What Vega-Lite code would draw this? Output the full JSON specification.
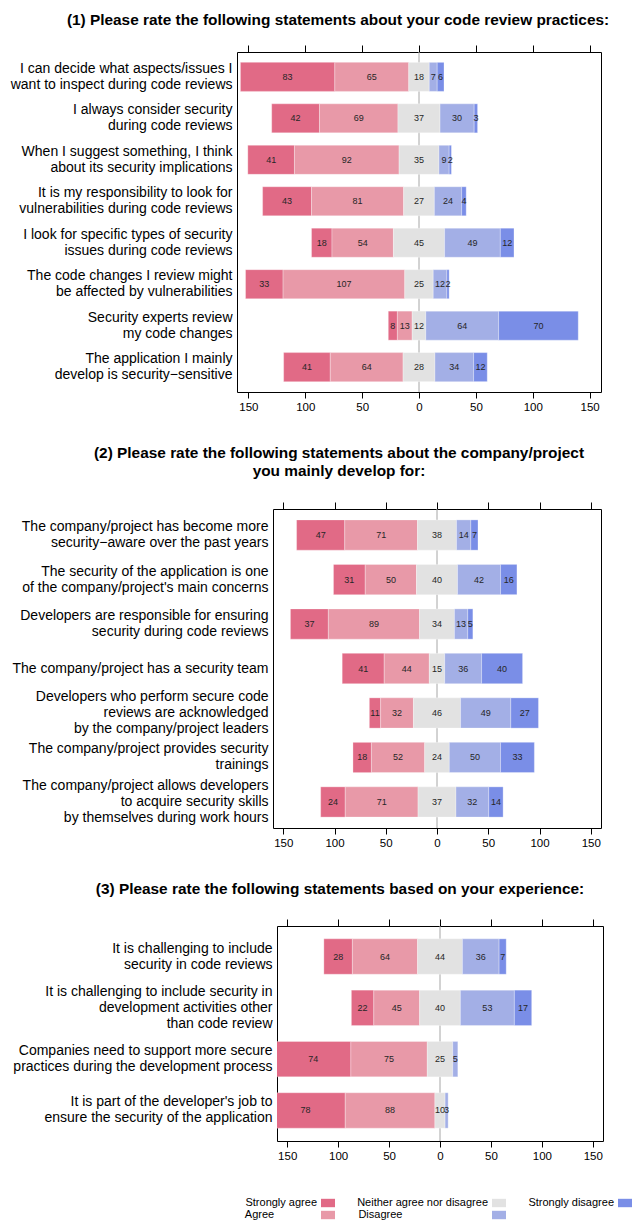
{
  "$schema": "https://vega.github.io/schema/vega-lite/v6.json",
  "background": "white",
  "padding": {"left": 7, "top": 12, "right": 0, "bottom": 0},
  "config": {
    "font": "Liberation Sans",
    "view": {"stroke": "black", "strokeWidth": 1},
    "axis": {"labelFont": "Liberation Sans", "labelColor": "black", "tickColor": "black", "tickWidth": 1, "grid": false},
    "axisY": {"title": null, "ticks": false, "domain": false, "labelExpr": "split(datum.label, '\\n')", "labelFontSize": 14, "labelLineHeight": 16, "labelPadding": 5, "labelLimit": 500, "maxExtent": 500,
      "labelOffset": {"condition": [{"test": "length(split(datum.label, '\\n')) === 3", "value": -16}, {"test": "length(split(datum.label, '\\n')) === 2", "value": -8}], "value": 0}},
    "title": {"font": "Liberation Sans", "fontSize": 15.4, "fontWeight": "bold", "color": "black", "anchor": "middle", "frame": "group", "lineHeight": 18},
    "legend": {"labelFont": "Liberation Sans"}
  },
  "datasets": {
    "statements": [
      {"q": 1, "p": 1, "s": "I can decide what aspects/issues I\nwant to inspect during code reviews"},
      {"q": 2, "p": 1, "s": "I always consider security\nduring code reviews"},
      {"q": 3, "p": 1, "s": "When I suggest something, I think\nabout its security implications"},
      {"q": 4, "p": 1, "s": "It is my responsibility to look for\nvulnerabilities during code reviews"},
      {"q": 5, "p": 1, "s": "I look for specific types of security\nissues during code reviews"},
      {"q": 6, "p": 1, "s": "The code changes I review might\nbe affected by vulnerabilities"},
      {"q": 7, "p": 1, "s": "Security experts review\nmy code changes"},
      {"q": 8, "p": 1, "s": "The application I mainly\ndevelop is security−sensitive"},
      {"q": 9, "p": 2, "s": "The company/project has become more\nsecurity−aware over the past years"},
      {"q": 10, "p": 2, "s": "The security of the application is one\nof the company/project's main concerns"},
      {"q": 11, "p": 2, "s": "Developers are responsible for ensuring\nsecurity during code reviews"},
      {"q": 12, "p": 2, "s": "The company/project has a security team"},
      {"q": 13, "p": 2, "s": "Developers who perform secure code\nreviews are acknowledged\nby the company/project leaders"},
      {"q": 14, "p": 2, "s": "The company/project provides security\ntrainings"},
      {"q": 15, "p": 2, "s": "The company/project allows developers\nto acquire security skills\nby themselves during work hours"},
      {"q": 16, "p": 3, "s": "It is challenging to include\nsecurity in code reviews"},
      {"q": 17, "p": 3, "s": "It is challenging to include security in\ndevelopment activities other\nthan code review"},
      {"q": 18, "p": 3, "s": "Companies need to support more secure\npractices during the development process"},
      {"q": 19, "p": 3, "s": "It is part of the developer's job to\nensure the security of the application"}
    ],
    "answers": [
      {"q": 1, "c": "Strongly agree", "v": 83}, {"q": 1, "c": "Agree", "v": 65}, {"q": 1, "c": "Neither agree nor disagree", "v": 18}, {"q": 1, "c": "Disagree", "v": 7}, {"q": 1, "c": "Strongly disagree", "v": 6},
      {"q": 2, "c": "Strongly agree", "v": 42}, {"q": 2, "c": "Agree", "v": 69}, {"q": 2, "c": "Neither agree nor disagree", "v": 37}, {"q": 2, "c": "Disagree", "v": 30}, {"q": 2, "c": "Strongly disagree", "v": 3},
      {"q": 3, "c": "Strongly agree", "v": 41}, {"q": 3, "c": "Agree", "v": 92}, {"q": 3, "c": "Neither agree nor disagree", "v": 35}, {"q": 3, "c": "Disagree", "v": 9}, {"q": 3, "c": "Strongly disagree", "v": 2},
      {"q": 4, "c": "Strongly agree", "v": 43}, {"q": 4, "c": "Agree", "v": 81}, {"q": 4, "c": "Neither agree nor disagree", "v": 27}, {"q": 4, "c": "Disagree", "v": 24}, {"q": 4, "c": "Strongly disagree", "v": 4},
      {"q": 5, "c": "Strongly agree", "v": 18}, {"q": 5, "c": "Agree", "v": 54}, {"q": 5, "c": "Neither agree nor disagree", "v": 45}, {"q": 5, "c": "Disagree", "v": 49}, {"q": 5, "c": "Strongly disagree", "v": 12},
      {"q": 6, "c": "Strongly agree", "v": 33}, {"q": 6, "c": "Agree", "v": 107}, {"q": 6, "c": "Neither agree nor disagree", "v": 25}, {"q": 6, "c": "Disagree", "v": 12}, {"q": 6, "c": "Strongly disagree", "v": 2},
      {"q": 7, "c": "Strongly agree", "v": 8}, {"q": 7, "c": "Agree", "v": 13}, {"q": 7, "c": "Neither agree nor disagree", "v": 12}, {"q": 7, "c": "Disagree", "v": 64}, {"q": 7, "c": "Strongly disagree", "v": 70},
      {"q": 8, "c": "Strongly agree", "v": 41}, {"q": 8, "c": "Agree", "v": 64}, {"q": 8, "c": "Neither agree nor disagree", "v": 28}, {"q": 8, "c": "Disagree", "v": 34}, {"q": 8, "c": "Strongly disagree", "v": 12},
      {"q": 9, "c": "Strongly agree", "v": 47}, {"q": 9, "c": "Agree", "v": 71}, {"q": 9, "c": "Neither agree nor disagree", "v": 38}, {"q": 9, "c": "Disagree", "v": 14}, {"q": 9, "c": "Strongly disagree", "v": 7},
      {"q": 10, "c": "Strongly agree", "v": 31}, {"q": 10, "c": "Agree", "v": 50}, {"q": 10, "c": "Neither agree nor disagree", "v": 40}, {"q": 10, "c": "Disagree", "v": 42}, {"q": 10, "c": "Strongly disagree", "v": 16},
      {"q": 11, "c": "Strongly agree", "v": 37}, {"q": 11, "c": "Agree", "v": 89}, {"q": 11, "c": "Neither agree nor disagree", "v": 34}, {"q": 11, "c": "Disagree", "v": 13}, {"q": 11, "c": "Strongly disagree", "v": 5},
      {"q": 12, "c": "Strongly agree", "v": 41}, {"q": 12, "c": "Agree", "v": 44}, {"q": 12, "c": "Neither agree nor disagree", "v": 15}, {"q": 12, "c": "Disagree", "v": 36}, {"q": 12, "c": "Strongly disagree", "v": 40},
      {"q": 13, "c": "Strongly agree", "v": 11}, {"q": 13, "c": "Agree", "v": 32}, {"q": 13, "c": "Neither agree nor disagree", "v": 46}, {"q": 13, "c": "Disagree", "v": 49}, {"q": 13, "c": "Strongly disagree", "v": 27},
      {"q": 14, "c": "Strongly agree", "v": 18}, {"q": 14, "c": "Agree", "v": 52}, {"q": 14, "c": "Neither agree nor disagree", "v": 24}, {"q": 14, "c": "Disagree", "v": 50}, {"q": 14, "c": "Strongly disagree", "v": 33},
      {"q": 15, "c": "Strongly agree", "v": 24}, {"q": 15, "c": "Agree", "v": 71}, {"q": 15, "c": "Neither agree nor disagree", "v": 37}, {"q": 15, "c": "Disagree", "v": 32}, {"q": 15, "c": "Strongly disagree", "v": 14},
      {"q": 16, "c": "Strongly agree", "v": 28}, {"q": 16, "c": "Agree", "v": 64}, {"q": 16, "c": "Neither agree nor disagree", "v": 44}, {"q": 16, "c": "Disagree", "v": 36}, {"q": 16, "c": "Strongly disagree", "v": 7},
      {"q": 17, "c": "Strongly agree", "v": 22}, {"q": 17, "c": "Agree", "v": 45}, {"q": 17, "c": "Neither agree nor disagree", "v": 40}, {"q": 17, "c": "Disagree", "v": 53}, {"q": 17, "c": "Strongly disagree", "v": 17},
      {"q": 18, "c": "Strongly agree", "v": 74}, {"q": 18, "c": "Agree", "v": 75}, {"q": 18, "c": "Neither agree nor disagree", "v": 25}, {"q": 18, "c": "Disagree", "v": 5},
      {"q": 19, "c": "Strongly agree", "v": 78}, {"q": 19, "c": "Agree", "v": 88}, {"q": 19, "c": "Neither agree nor disagree", "v": 10}, {"q": 19, "c": "Disagree", "v": 3}
    ]
  },
  "data": {"name": "answers"},
  "spacing": 32,
  "resolve": {"scale": {"x": "independent", "y": "independent", "color": "shared"}},
  "vconcat": [
    {
      "spacing": 0,
      "hconcat": [
        {"width": 1, "height": 1, "view": {"stroke": null}, "mark": {"type": "text"}, "encoding": {}},
        {
          "width": 364,
          "height": 340,
          "title": {"text": "(1) Please rate the following statements about your code review practices:", "dx": -81, "offset": 16},
          "transform": [
            {"lookup": "q", "from": {"data": {"name": "statements"}, "key": "q", "fields": ["p", "s"]}},
            {"filter": "datum.p === 1"},
            {"calculate": "indexof(['Strongly agree','Agree','Neither agree nor disagree','Disagree','Strongly disagree'], datum.c)", "as": "rank"},
            {"calculate": "datum.rank < 2 ? datum.v : (datum.rank === 2 ? datum.v / 2 : 0)", "as": "neg"},
            {"joinaggregate": [{"op": "sum", "field": "neg", "as": "shift"}], "groupby": ["q"]},
            {"stack": "v", "groupby": ["q"], "sort": [{"field": "rank", "order": "ascending"}], "as": ["s0", "s1"]},
            {"calculate": "datum.s0 - datum.shift", "as": "xs"},
            {"calculate": "datum.s1 - datum.shift", "as": "xe"},
            {"calculate": "(datum.xs + datum.xe) / 2", "as": "xm"}
          ],
          "layer": [
            {
              "transform": [{"aggregate": [{"op": "count", "as": "n"}]}],
              "mark": {"type": "rule", "color": "#a6a6a6", "strokeWidth": 1},
              "encoding": {
                "x": {"datum": 0, "type": "quantitative", "scale": {"domain": [-160, 160], "nice": false, "zero": false},
                  "axis": {"orient": "top", "labels": false, "title": null, "values": [-150, -100, -50, 0, 50, 100, 150], "tickSize": 7, "domain": false}}
              }
            },
            {
              "mark": {"type": "bar", "clip": true, "stroke": "white", "strokeWidth": 0.5, "strokeOpacity": 0.6},
              "encoding": {
                "x": {"field": "xs", "type": "quantitative",
                  "axis": {"orient": "bottom", "title": null, "values": [-150, -100, -50, 0, 50, 100, 150], "labelExpr": "abs(datum.value)", "tickSize": 6, "domain": false, "labelFontSize": 11.5, "labelPadding": 3, "labelFlush": false, "labelOverlap": false}},
                "x2": {"field": "xe"},
                "y": {"field": "s", "type": "nominal", "sort": {"field": "q", "op": "min"}, "scale": {"paddingInner": 0.3, "paddingOuter": 0.25}, "axis": {"minExtent": 228}},
                "color": {"field": "c", "type": "nominal",
                  "scale": {"domain": ["Strongly agree", "Neither agree nor disagree", "Strongly disagree", "Agree", "Disagree"], "range": ["#E16A86", "#E2E2E2", "#7A8EE7", "#E899A8", "#A3AFE6"]},
                  "legend": {"title": null, "orient": "none", "legendX": 314, "legendY": 1144, "columns": 3, "direction": "horizontal", "columnPadding": 22, "rowPadding": -3, "padding": 0,
                    "labelFontSize": 11, "labelColor": "black", "labelAlign": "right", "labelOffset": -18,
                    "labelExpr": "datum.label === 'Agree' ? 'Agree\u00a0\u00a0\u00a0\u00a0\u00a0\u00a0\u00a0\u00a0\u00a0\u00a0\u00a0\u00a0\u00a0\u00a0\u200b' : (datum.label === 'Disagree' ? 'Disagree\u00a0\u00a0\u00a0\u00a0\u00a0\u00a0\u00a0\u00a0\u00a0\u00a0\u00a0\u00a0\u00a0\u00a0\u00a0\u00a0\u00a0\u00a0\u00a0\u00a0\u00a0\u00a0\u00a0\u00a0\u00a0\u00a0\u00a0\u00a0\u200b' : datum.label)",
                    "symbolType": "M-1,-0.6H1V0.6H-1Z", "symbolSize": 196, "symbolStrokeWidth": 0, "symbolOpacity": 1}}
              }
            },
            {
              "mark": {"type": "text", "fontSize": 9, "color": "#262626", "clip": true},
              "encoding": {
                "x": {"field": "xm", "type": "quantitative", "axis": null},
                "y": {"field": "s", "type": "nominal", "sort": {"field": "q", "op": "min"}, "axis": {"minExtent": 228}},
                "text": {"field": "v", "type": "quantitative"}
              }
            }
          ],
          "resolve": {"axis": {"x": "independent"}}
        }
      ]
    },
    {
      "spacing": 0,
      "hconcat": [
        {"width": 1, "height": 1, "view": {"stroke": null}, "mark": {"type": "text"}, "encoding": {}},
        {
          "width": 328,
          "height": 319,
          "title": {"text": ["(2) Please rate the following statements about the company/project", "you mainly develop for:"], "dx": -98, "offset": 22},
          "transform": [
            {"lookup": "q", "from": {"data": {"name": "statements"}, "key": "q", "fields": ["p", "s"]}},
            {"filter": "datum.p === 2"},
            {"calculate": "indexof(['Strongly agree','Agree','Neither agree nor disagree','Disagree','Strongly disagree'], datum.c)", "as": "rank"},
            {"calculate": "datum.rank < 2 ? datum.v : (datum.rank === 2 ? datum.v / 2 : 0)", "as": "neg"},
            {"joinaggregate": [{"op": "sum", "field": "neg", "as": "shift"}], "groupby": ["q"]},
            {"stack": "v", "groupby": ["q"], "sort": [{"field": "rank", "order": "ascending"}], "as": ["s0", "s1"]},
            {"calculate": "datum.s0 - datum.shift", "as": "xs"},
            {"calculate": "datum.s1 - datum.shift", "as": "xe"},
            {"calculate": "(datum.xs + datum.xe) / 2", "as": "xm"}
          ],
          "layer": [
            {
              "transform": [{"aggregate": [{"op": "count", "as": "n"}]}],
              "mark": {"type": "rule", "color": "#a6a6a6", "strokeWidth": 1},
              "encoding": {
                "x": {"datum": 0, "type": "quantitative", "scale": {"domain": [-160, 160], "nice": false, "zero": false},
                  "axis": {"orient": "top", "labels": false, "title": null, "values": [-150, -100, -50, 0, 50, 100, 150], "tickSize": 7, "domain": false}}
              }
            },
            {
              "mark": {"type": "bar", "clip": true, "stroke": "white", "strokeWidth": 0.5, "strokeOpacity": 0.6},
              "encoding": {
                "x": {"field": "xs", "type": "quantitative",
                  "axis": {"orient": "bottom", "title": null, "values": [-150, -100, -50, 0, 50, 100, 150], "labelExpr": "abs(datum.value)", "tickSize": 6, "domain": false, "labelFontSize": 11.5, "labelPadding": 3, "labelFlush": false, "labelOverlap": false}},
                "x2": {"field": "xe"},
                "y": {"field": "s", "type": "nominal", "sort": {"field": "q", "op": "min"}, "scale": {"paddingInner": 0.32, "paddingOuter": 0.245}, "axis": {"minExtent": 264}},
                "color": {"field": "c", "type": "nominal"}
              }
            },
            {
              "mark": {"type": "text", "fontSize": 9, "color": "#262626", "clip": true},
              "encoding": {
                "x": {"field": "xm", "type": "quantitative", "axis": null},
                "y": {"field": "s", "type": "nominal", "sort": {"field": "q", "op": "min"}, "axis": {"minExtent": 264}},
                "text": {"field": "v", "type": "quantitative"}
              }
            }
          ],
          "resolve": {"axis": {"x": "independent"}}
        }
      ]
    },
    {
      "spacing": 0,
      "hconcat": [
        {"width": 1, "height": 1, "view": {"stroke": null}, "mark": {"type": "text"}, "encoding": {}},
        {
          "width": 326,
          "height": 215,
          "title": {"text": "(3) Please rate the following statements based on your experience:", "dx": -100, "offset": 21},
          "transform": [
            {"lookup": "q", "from": {"data": {"name": "statements"}, "key": "q", "fields": ["p", "s"]}},
            {"filter": "datum.p === 3"},
            {"calculate": "indexof(['Strongly agree','Agree','Neither agree nor disagree','Disagree','Strongly disagree'], datum.c)", "as": "rank"},
            {"calculate": "datum.rank < 2 ? datum.v : (datum.rank === 2 ? datum.v / 2 : 0)", "as": "neg"},
            {"joinaggregate": [{"op": "sum", "field": "neg", "as": "shift"}], "groupby": ["q"]},
            {"stack": "v", "groupby": ["q"], "sort": [{"field": "rank", "order": "ascending"}], "as": ["s0", "s1"]},
            {"calculate": "datum.s0 - datum.shift", "as": "xs"},
            {"calculate": "datum.s1 - datum.shift", "as": "xe"},
            {"calculate": "(datum.xs + datum.xe) / 2", "as": "xm"}
          ],
          "layer": [
            {
              "transform": [{"aggregate": [{"op": "count", "as": "n"}]}],
              "mark": {"type": "rule", "color": "#a6a6a6", "strokeWidth": 1},
              "encoding": {
                "x": {"datum": 0, "type": "quantitative", "scale": {"domain": [-160, 160], "nice": false, "zero": false},
                  "axis": {"orient": "top", "labels": false, "title": null, "values": [-150, -100, -50, 0, 50, 100, 150], "tickSize": 7, "domain": false}}
              }
            },
            {
              "mark": {"type": "bar", "clip": true, "stroke": "white", "strokeWidth": 0.5, "strokeOpacity": 0.6},
              "encoding": {
                "x": {"field": "xs", "type": "quantitative",
                  "axis": {"orient": "bottom", "title": null, "values": [-150, -100, -50, 0, 50, 100, 150], "labelExpr": "abs(datum.value)", "tickSize": 6, "domain": false, "labelFontSize": 11.5, "labelPadding": 3, "labelFlush": false, "labelOverlap": false}},
                "x2": {"field": "xe"},
                "y": {"field": "s", "type": "nominal", "sort": {"field": "q", "op": "min"}, "scale": {"paddingInner": 0.31, "paddingOuter": 0.25}, "axis": {"minExtent": 268}},
                "color": {"field": "c", "type": "nominal"}
              }
            },
            {
              "mark": {"type": "text", "fontSize": 9, "color": "#262626", "clip": true},
              "encoding": {
                "x": {"field": "xm", "type": "quantitative", "axis": null},
                "y": {"field": "s", "type": "nominal", "sort": {"field": "q", "op": "min"}, "axis": {"minExtent": 268}},
                "text": {"field": "v", "type": "quantitative"}
              }
            }
          ],
          "resolve": {"axis": {"x": "independent"}}
        }
      ]
    }
  ]
}
